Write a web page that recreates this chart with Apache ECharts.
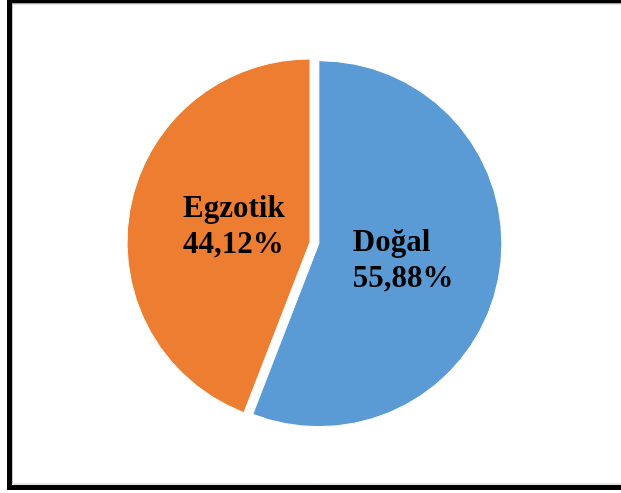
<!DOCTYPE html>
<html>
<head>
<meta charset="utf-8">
<script src="https://cdn.jsdelivr.net/npm/echarts@6/dist/echarts.min.js"></script>
<style>
  html, body { margin: 0; padding: 0; background: #fff; }
  #main { width: 621px; height: 493px; }
</style>
</head>
<body>
<div id="main"></div>
<script>
var categories = ['Doğal', 'Egzotik'];
var shares = [55.88, 44.12];
var colors = ['#5B9BD5', '#ED7D31'];

var myChart = echarts.init(document.getElementById('main'));

var pieData = categories.map(function (name, i) {
  return {
    name: name,
    value: shares[i],
    selected: i === 0,
    itemStyle: { color: colors[i] }
  };
});

// small nudges so the labels sit where the original ones are (Doğal, Egzotik)
var labelShift = [[-9, 0], [16, 2]];

var option = {
  animation: false,
  backgroundColor: '#fff',
  graphic: [
    {
      type: 'rect',
      shape: { x: 9.5, y: 1, width: 700, height: 486.5 },
      style: { fill: 'none', stroke: '#000', lineWidth: 5 },
      silent: true
    },
    {
      type: 'rect',
      shape: { x: 12.5, y: 4, width: 700, height: 480 },
      style: { fill: 'none', stroke: '#c8c8c8', lineWidth: 1 },
      silent: true
    }
  ],
  series: [
    {
      type: 'pie',
      center: [310, 242],
      radius: 183,
      startAngle: 90,
      clockwise: true,
      selectedMode: 'single',
      selectedOffset: 9,
      silent: true,
      itemStyle: { borderColor: '#fff', borderWidth: 1 },
      label: {
        position: 'inside',
        align: 'left',
        color: '#000',
        fontFamily: 'Liberation Serif',
        fontWeight: 'bold',
        fontSize: 31,
        lineHeight: 36,
        formatter: function (p) {
          return '{t|' + p.name + '}\n{t|' + p.value.toFixed(2).replace('.', ',') + '%}';
        },
        rich: {
          t: {
            width: 100,
            align: 'left',
            color: '#000',
            fontFamily: 'Liberation Serif',
            fontWeight: 'bold',
            fontSize: 31,
            lineHeight: 36
          }
        }
      },
      labelLayout: function (p) {
        return { dx: labelShift[p.dataIndex][0], dy: labelShift[p.dataIndex][1] };
      },
      data: pieData
    }
  ]
};

myChart.setOption(option, true);
</script>
</body>
</html>
